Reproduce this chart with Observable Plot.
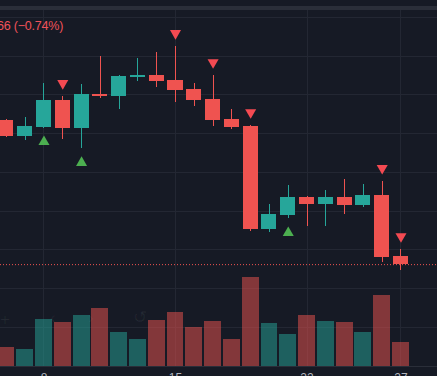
<!DOCTYPE html>
<html><head><meta charset="utf-8">
<script src="https://cdn.jsdelivr.net/npm/d3@7"></script>
<script src="https://cdn.jsdelivr.net/npm/@observablehq/plot@0.6"></script>
<style>
html,body{margin:0;padding:0;background:#161a25;overflow:hidden;}
#wrap{position:relative;width:437px;height:376px;overflow:hidden;background:#161a25;font-family:"Liberation Sans",Arial,sans-serif;}
#wrap svg{position:absolute;left:0;top:0;}
#band{position:absolute;left:0;top:6px;width:437px;height:4px;background:#2a2e39;}
#legend{position:absolute;left:-3px;top:19px;font-size:12.5px;color:#f0525a;white-space:nowrap;letter-spacing:-0.2px;}
.icon{position:absolute;color:rgba(255,255,255,0.06);font-size:17px;line-height:17px;}
</style></head><body><div id="wrap"></div>
<script>
// candle data (index, OHLC), volume, signals
const idx     = d3.range(22);
const opens   = [105.34,104.93,105.16,105.86,105.13,106.02,105.97,106.45,106.50,106.37,106.14,105.88,105.37,105.18,102.53,102.89,103.35,103.17,103.35,103.15,103.40,101.83];
const closes  = [104.93,105.18,105.86,105.13,106.01,105.97,106.47,106.50,106.35,106.11,105.86,105.34,105.16,102.53,102.91,103.35,103.17,103.35,103.15,103.40,101.80,101.62];
const highs   = [105.37,105.42,106.29,105.96,106.27,106.99,106.50,106.94,107.09,107.25,106.29,106.50,105.62,105.21,103.17,103.66,103.38,103.53,103.82,103.69,103.77,102.01];
const lows    = [104.90,104.82,105.13,104.85,104.62,105.91,105.62,106.35,106.19,105.80,105.70,105.18,105.11,102.47,102.45,102.81,102.60,102.60,102.91,103.09,101.67,101.47];
const volumes = [1.9,1.7,4.7,4.4,5.1,5.8,3.4,2.7,4.6,5.4,3.9,4.5,2.7,8.9,4.3,3.2,5.1,4.5,4.4,3.4,7.1,2.4];
const sellIdx   = [3,9,11,13,20,21];
const sellPrice = [106.30,107.59,106.84,105.55,104.11,102.35];
const buyIdx    = [2,4,15];
const buyPrice  = [104.79,104.25,102.44];
const gridPrices = [100,101,102,103,104,105,106,107,108];
const tickIdx    = [2,9,16,21];
const tickLabels = ["8","15","22","27"];
const legendText = "66 (−0.74%)";

const UP = "#26a69a", DOWN = "#ef5350";
const candles = idx.map(i => ({i, open: opens[i], close: closes[i], high: highs[i], low: lows[i],
  color: closes[i] >= opens[i] ? UP : DOWN}));
const vols = idx.map(i => ({i, v: volumes[i], color: candles[i].color}));
const sells = sellIdx.map((i, k) => ({i, p: sellPrice[k]}));
const buys = buyIdx.map((i, k) => ({i, p: buyPrice[k]}));
const ticks = tickIdx.map((i, k) => ({i, label: tickLabels[k]}));

const xDomain = [-0.314, 22.943];
const GRID = "#232733";

const main = Plot.plot({
  width: 437, height: 376, margin: 0,
  x: {type: "linear", domain: xDomain, axis: null},
  y: {domain: [98.733, 108.436], axis: null},
  style: {background: "transparent"},
  marks: [
    Plot.ruleY(gridPrices, {stroke: GRID, strokeWidth: 1, shapeRendering: "crispEdges"}),
    Plot.ruleX(tickIdx, {x: d => d, y1: 108.18, y2: 99.0, stroke: GRID, shapeRendering: "crispEdges"}),
    Plot.ruleY([closes[closes.length - 1]], {stroke: DOWN, strokeDasharray: "1,2"}),
    Plot.ruleX(candles, {x: "i", y1: "low", y2: "high", stroke: "color", shapeRendering: "crispEdges"}),
    Plot.rect(candles, {x1: d => d.i - 0.4, x2: d => d.i + 0.4, y1: "open", y2: "close", fill: "color", shapeRendering: "crispEdges"}),
    Plot.dot(sells, {x: "i", y: "p", symbol: "triangle", rotate: 180, r: 4.1, fill: "#f44a52", stroke: "none"}),
    Plot.dot(buys, {x: "i", y: "p", symbol: "triangle", r: 4.1, fill: "#4caf50", stroke: "none"})
  ]
});

const vol = Plot.plot({
  width: 437, height: 376, marginTop: 0, marginLeft: 0, marginRight: 0, marginBottom: 10,
  x: {type: "linear", domain: xDomain, axis: null},
  y: {domain: [0, 36.6], axis: null},
  style: {background: "transparent", overflow: "visible"},
  marks: [
    Plot.rect(vols, {x1: d => d.i - 0.45, x2: d => d.i + 0.45, y1: 0, y2: "v", fill: "color", fillOpacity: 0.5, shapeRendering: "crispEdges"}),
    Plot.ruleY([0], {stroke: "#2a2e39", strokeWidth: 1, shapeRendering: "crispEdges"}),
    Plot.text(ticks, {x: "i", y: 0, text: "label", dy: 7, lineAnchor: "top", fill: "#b2b5be", fontSize: 12, fontFamily: "Liberation Sans, Arial, sans-serif"})
  ]
});

const wrap = document.getElementById("wrap");
wrap.appendChild(main);
wrap.appendChild(vol);
const band = document.createElement("div"); band.id = "band"; wrap.appendChild(band);
const leg = document.createElement("div"); leg.id = "legend"; leg.textContent = legendText; wrap.appendChild(leg);
[["+", 0, 311], ["‹", 50, 309], ["›", 88, 309], ["↺", 133, 309]].forEach(([t, l, tp]) => {
  const s = document.createElement("span"); s.className = "icon"; s.textContent = t;
  s.style.left = l + "px"; s.style.top = tp + "px"; wrap.appendChild(s);
});
</script>
</body></html>
